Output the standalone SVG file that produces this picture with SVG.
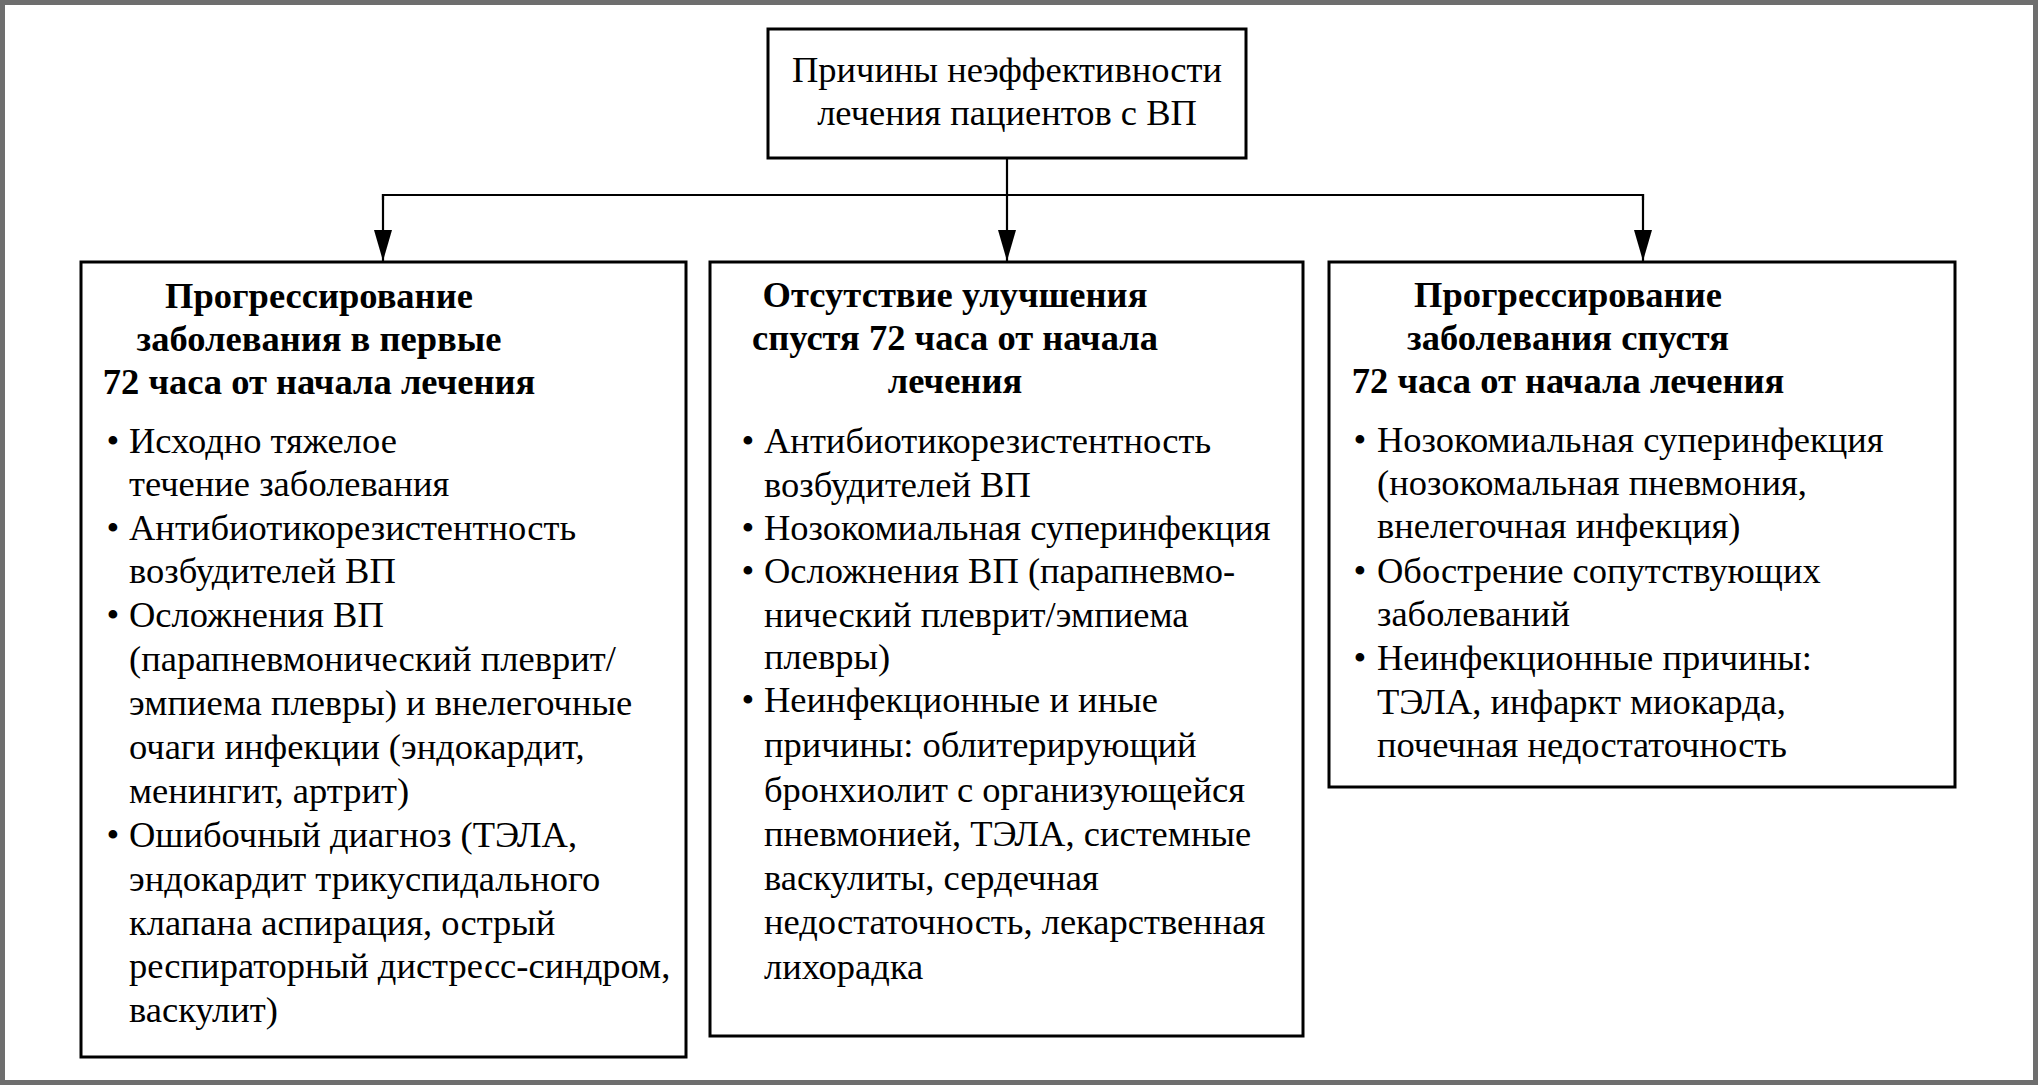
<svg xmlns="http://www.w3.org/2000/svg" width="2038" height="1085" viewBox="0 0 2038 1085">
<defs>
<style>
.box{fill:#fff;stroke:#000;stroke-width:3}
.con{fill:none;stroke:#000;stroke-width:2.2}
.t{font-family:"Liberation Serif","Times New Roman",serif;font-size:36.5px;fill:#000}
.b{font-family:"Liberation Serif","Times New Roman",serif;font-size:36.5px;font-weight:bold;fill:#000;text-anchor:middle}
.c{text-anchor:middle}
</style>
<marker id="arr" markerUnits="userSpaceOnUse" markerWidth="31" markerHeight="18" refX="31" refY="9" orient="auto" viewBox="0 0 31 18">
<path d="M0,0 L31,9 L0,18 Z" fill="#000"/>
</marker>
</defs>
<rect x="2.5" y="2.5" width="2033" height="1080" fill="#fff" stroke="#6e6e6e" stroke-width="5"/>
<g id="connectors">
<line class="con" x1="1007" y1="158" x2="1007" y2="261" marker-end="url(#arr)"/>
<polyline class="con" points="383,200 383,195 1643,195 1643,200"/>
<line class="con" x1="383" y1="194" x2="383" y2="261" marker-end="url(#arr)"/>
<line class="con" x1="1643" y1="194" x2="1643" y2="261" marker-end="url(#arr)"/>
</g>
<g id="root">
<rect class="box" x="768" y="29" width="478" height="129"/>
<text class="t c" x="1007" y="82">Причины неэффективности</text>
<text class="t c" x="1007" y="125">лечения пациентов с ВП</text>
</g>
<g id="left">
<rect class="box" x="81" y="262" width="605" height="795"/>
<text class="b" x="319" y="308">Прогрессирование</text>
<text class="b" x="319" y="351">заболевания в первые</text>
<text class="b" x="319" y="394">72 часа от начала лечения</text>
<g class="t">
<text x="113" y="453" class="c">•</text><text x="129" y="453">Исходно тяжелое</text>
<text x="129" y="496">течение заболевания</text>
<text x="113" y="540" class="c">•</text><text x="129" y="540">Антибиотикорезистентность</text>
<text x="129" y="583">возбудителей ВП</text>
<text x="113" y="627" class="c">•</text><text x="129" y="627">Осложнения ВП</text>
<text x="129" y="671">(парапневмонический плеврит/</text>
<text x="129" y="715">эмпиема плевры) и внелегочные</text>
<text x="129" y="759">очаги инфекции (эндокардит,</text>
<text x="129" y="803">менингит, артрит)</text>
<text x="113" y="847" class="c">•</text><text x="129" y="847">Ошибочный диагноз (ТЭЛА,</text>
<text x="129" y="891">эндокардит трикуспидального</text>
<text x="129" y="935">клапана аспирация, острый</text>
<text x="129" y="978">респираторный дистресс-синдром,</text>
<text x="129" y="1022">васкулит)</text>
</g>
</g>
<g id="middle">
<rect class="box" x="710" y="262" width="593" height="774"/>
<text class="b" x="955" y="307">Отсутствие улучшения</text>
<text class="b" x="955" y="350">спустя 72 часа от начала</text>
<text class="b" x="955" y="393">лечения</text>
<g class="t">
<text x="748" y="453" class="c">•</text><text x="764" y="453">Антибиотикорезистентность</text>
<text x="764" y="497">возбудителей ВП</text>
<text x="748" y="540" class="c">•</text><text x="764" y="540">Нозокомиальная суперинфекция</text>
<text x="748" y="583" class="c">•</text><text x="764" y="583">Осложнения ВП (парапневмо-</text>
<text x="764" y="627">нический плеврит/эмпиема</text>
<text x="764" y="669">плевры)</text>
<text x="748" y="712" class="c">•</text><text x="764" y="712">Неинфекционные и иные</text>
<text x="764" y="757">причины: облитерирующий</text>
<text x="764" y="802">бронхиолит с организующейся</text>
<text x="764" y="846">пневмонией, ТЭЛА, системные</text>
<text x="764" y="890">васкулиты, сердечная</text>
<text x="764" y="934">недостаточность, лекарственная</text>
<text x="764" y="979">лихорадка</text>
</g>
</g>
<g id="right">
<rect class="box" x="1329" y="262" width="626" height="525"/>
<text class="b" x="1568" y="307">Прогрессирование</text>
<text class="b" x="1568" y="350">заболевания спустя</text>
<text class="b" x="1568" y="393">72 часа от начала лечения</text>
<g class="t">
<text x="1360" y="452" class="c">•</text><text x="1377" y="452">Нозокомиальная суперинфекция</text>
<text x="1377" y="495">(нозокомальная пневмония,</text>
<text x="1377" y="538">внелегочная инфекция)</text>
<text x="1360" y="583" class="c">•</text><text x="1377" y="583">Обострение сопутствующих</text>
<text x="1377" y="626">заболеваний</text>
<text x="1360" y="670" class="c">•</text><text x="1377" y="670">Неинфекционные причины:</text>
<text x="1377" y="714">ТЭЛА, инфаркт миокарда,</text>
<text x="1377" y="757">почечная недостаточность</text>
</g>
</g>
</svg>
